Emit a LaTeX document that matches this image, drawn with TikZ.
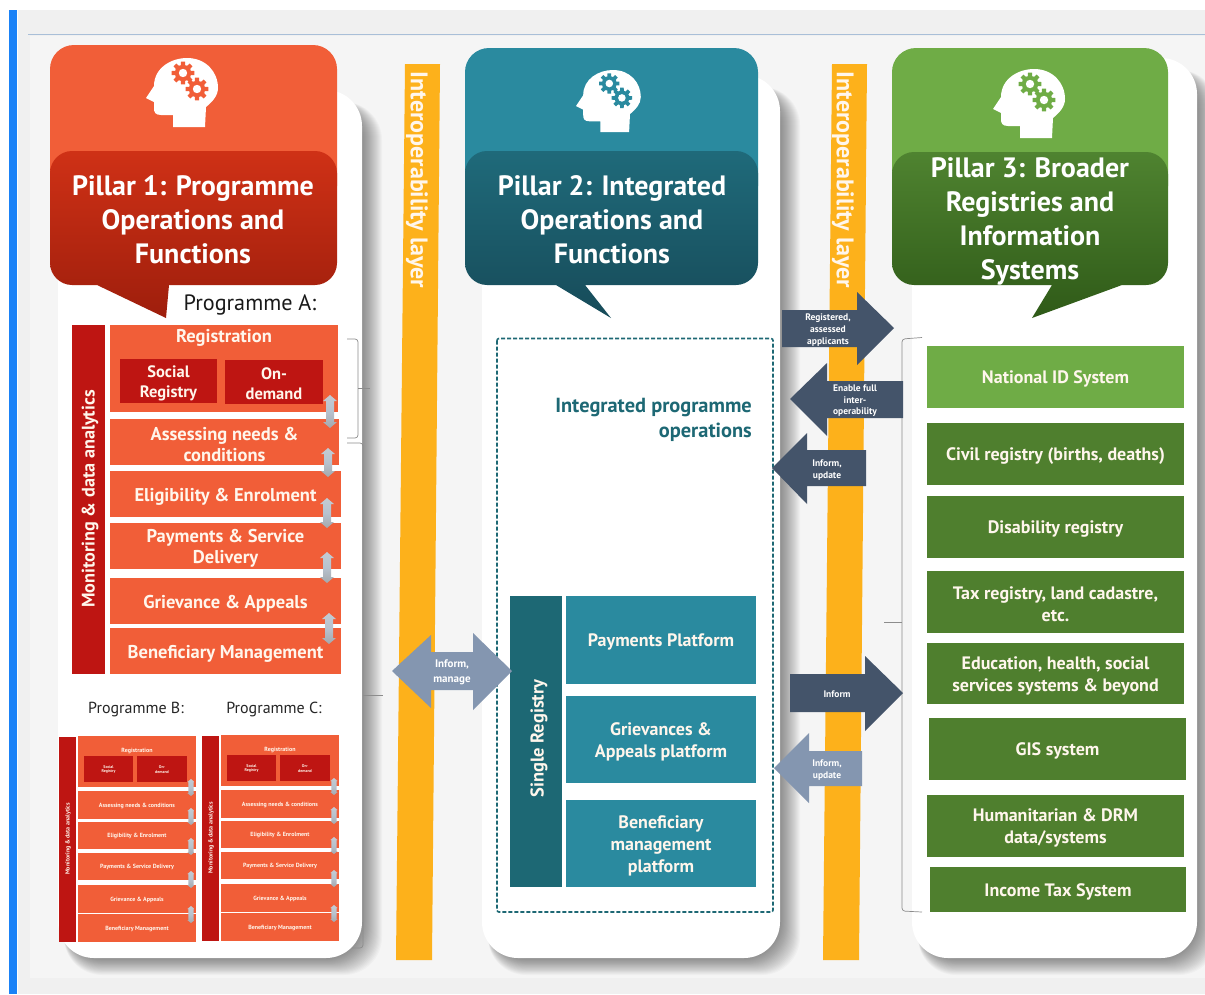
\documentclass[tikz,border=0pt]{standalone}
\usepackage{fontspec}
\setmainfont{PT Sans}
\definecolor{oA}{HTML}{F15E38}
\definecolor{rD}{HTML}{BE1512}
\definecolor{tA}{HTML}{2A8A9F}
\definecolor{tD}{HTML}{1D6874}
\definecolor{gA}{HTML}{6FAC46}
\definecolor{gD}{HTML}{4F7F2E}
\definecolor{barY}{HTML}{FDB11B}
\definecolor{navy}{HTML}{44546A}
\definecolor{slate}{HTML}{8496B0}
\definecolor{txtw}{HTML}{FFF6EC}
\definecolor{cat}{HTML}{CF3116}
\definecolor{cab}{HTML}{9E1E0C}
\definecolor{cbt}{HTML}{1F6A7A}
\definecolor{cbb}{HTML}{174B59}
\definecolor{cct}{HTML}{4F8330}
\definecolor{ccb}{HTML}{2F5A18}
\definecolor{rulec}{HTML}{A9BFD8}
\definecolor{blueb}{HTML}{1A82F7}
\definecolor{arrt}{HTML}{C3CBD3}
\definecolor{arrm}{HTML}{B7C2CE}
\definecolor{arrb}{HTML}{A4A8AC}
\tikzset{
  x=1pt,y=-1pt,
  plain/.style={inner sep=0pt,outer sep=0pt,align=center,text=txtw,font=\bfseries},
  orangebox/.style={plain,fill=oA},
  redbox/.style={plain,fill=rD},
  tealbox/.style={plain,fill=tA},
  tealdark/.style={plain,fill=tD},
  greenlight/.style={plain,fill=gA},
  greendark/.style={plain,fill=gD},
  fs/.style={font=\bfseries\fontsize{#1}{24}\selectfont},
  tiny text/.style={font=\bfseries\fontsize{6}{7}\selectfont},
  bracketline/.style={draw=black!45,line width=0.7pt,rounded corners=3pt},
  blockarrow/.style={inner sep=0pt,align=center,text=white},
}
% \bx{style}{name}{x1}{y1}{x2}{y2}{text}
\newcommand{\bx}[7]{%
  \pgfmathsetmacro{\bxw}{#5-#3}\pgfmathsetmacro{\bxh}{#6-#4}%
  \pgfmathsetmacro{\bxc}{(#3+#5)/2}\pgfmathsetmacro{\bxm}{(#4+#6)/2}%
  \node[#1,minimum width=\bxw pt,minimum height=\bxh pt] (#2) at (\bxc,\bxm) {\rule{0pt}{0.98em}#7};}
% small double arrow
\newcommand{\dblH}{7}\newcommand{\dblS}{4}\newcommand{\dblL}{6}
\newcommand{\dbl}[3]{%
  \path[top color=arrt,bottom color=arrb,middle color=arrm]
   (#1,#2) -- ({#1+\dblH},{#2+\dblL}) -- ({#1+\dblS},{#2+\dblL}) -- ({#1+\dblS},{#3-\dblL}) -- ({#1+\dblH},{#3-\dblL}) -- (#1,#3)
   -- ({#1-\dblH},{#3-\dblL}) -- ({#1-\dblS},{#3-\dblL}) -- ({#1-\dblS},{#2+\dblL}) -- ({#1-\dblH},{#2+\dblL}) -- cycle;}
% shadowed panel
\newcommand{\panel}[4]{%
  \foreach \s in {0,1,...,20}{
    \fill[black,opacity=0.024,rounded corners=38pt] ({#1+6},{#2+12}) rectangle ({#3+\s},{#4+\s*0.85});}
  \fill[white,rounded corners=36pt] (#1,#2) rectangle (#3,#4);}
% gear
\newcommand{\gear}[3]{%
  \foreach \ga in {0,45,...,315}{
    \fill[#3] ({#1+7.5*cos(\ga-17)},{#2+7.5*sin(\ga-17)}) -- ({#1+11.5*cos(\ga-10)},{#2+11.5*sin(\ga-10)})
      -- ({#1+11.5*cos(\ga+10)},{#2+11.5*sin(\ga+10)}) -- ({#1+7.5*cos(\ga+17)},{#2+7.5*sin(\ga+17)}) -- cycle;}
  \fill[#3] (#1,#2) circle (8.2);
  \fill[white] (#1,#2) circle (4.2);}
% head: x,y,scale,colour
\newcommand{\headicon}[4]{%
  \begin{scope}[shift={(#1,#2)},scale=#3]
  \fill[white] (27,69) -- (27,57) -- (15,57) .. controls (9,57) and (8,54) .. (8,50) -- (8,44) -- (0,40) -- (8,28)
    .. controls (8,10) and (25,0) .. (41,0) .. controls (60,0) and (72,14) .. (72,30)
    .. controls (72,38) and (66,44) .. (60,49) -- (59,69) -- cycle;
  \gear{37}{15}{#4}
  \gear{51}{31}{#4}
  \end{scope}}
% callout: x1,y1,x2,y2,pb,tip,pa,top,bottom
\newcommand{\callout}[9]{%
  \path[top color=#8,bottom color=#9]
    (#1,{#2+22}) .. controls (#1,{#2+10}) and ({#1+10},#2) .. ({#1+22},#2)
    -- ({#3-22},#2) .. controls ({#3-10},#2) and (#3,{#2+10}) .. (#3,{#2+22})
    -- (#3,{#4-22}) .. controls (#3,{#4-10}) and ({#3-10},#4) .. ({#3-22},#4)
    -- (#5,#4) -- #6 -- (#7,#4)
    -- ({#1+22},#4) .. controls ({#1+10},#4) and (#1,{#4-10}) .. (#1,{#4-22}) -- cycle;}
% small programme block
\newcommand{\prog}[3]{%
  \begin{scope}[shift={(#1,#2)}]
  \renewcommand{\dblH}{3.6}\renewcommand{\dblS}{2.6}\renewcommand{\dblL}{3}
  \bx{redbox,tiny text}{#3side}{0}{1}{17}{206}{}
  \node[plain,tiny text,rotate=90] (#3mon) at (9,103) {Monitoring \& data analytics};
  \bx{orangebox,tiny text}{#3reg}{19}{0}{137}{51}{}
  \node[plain,tiny text] (#3regl) at (78,15) {Registration};
  \bx{redbox,font=\bfseries\fontsize{4}{4.8}\selectfont}{#3soc}{25}{20}{74}{46}{Social\\Registry}
  \bx{redbox,font=\bfseries\fontsize{4}{4.8}\selectfont}{#3ond}{78}{20}{128}{46}{On-\\demand}
  \bx{orangebox,tiny text}{#3ass}{19}{55}{137}{83}{Assessing needs \& conditions}
  \bx{orangebox,tiny text}{#3eli}{19}{86}{137}{113}{Eligibility \& Enrolment}
  \bx{orangebox,tiny text}{#3pay}{19}{117}{137}{144}{Payments \& Service Delivery}
  \bx{orangebox,tiny text}{#3gri}{19}{149}{137}{177}{Grievance \& Appeals}
  \bx{orangebox,tiny text}{#3ben}{19}{178}{137}{206}{Beneficiary Management}
  \dbl{132}{43}{60}
  \dbl{132}{72}{89}
  \dbl{132}{102}{119}
  \dbl{132}{135}{152}
  \dbl{132}{170}{187}
  \end{scope}}
\begin{document}
\begin{tikzpicture}
\useasboundingbox (0,0) rectangle (1205,994);
\fill[white] (0,0) rectangle (1205,994);
\fill[black!6] (18,10) rectangle (1205,994);
\fill[black!4] (30,36) rectangle (1205,978);
\draw[rulec,line width=0.9pt] (28,34.5) -- (1205,34.5);
\fill[blueb] (9,10) rectangle (17,994);

\panel{58}{90}{362}{958}
\panel{482}{75}{780}{958}
\panel{912}{58}{1197}{958}

% interoperability bars
\fill[barY] (405,64) -- (440,64) -- (432,960) -- (396,960) -- cycle;
\fill[barY] (832,64) -- (867,64) -- (859,960) -- (823,960) -- cycle;
\node[plain,rotate=-90,fs=24] (ilA) at (417,180) {Interoperability layer};
\node[plain,rotate=-90,fs=24] (ilB) at (843,180) {Interoperability layer};

% pillar headers
\fill[oA,rounded corners=24pt] (50,45) rectangle (337,210);
\fill[tA,rounded corners=24pt] (465,48) rectangle (758,210);
\fill[gA,rounded corners=24pt] (892,48) rectangle (1168,210);
\headicon{146}{58}{1}{oA}
\headicon{576}{70}{0.9}{tA}
\headicon{993}{69}{1}{gA}
\callout{50}{151}{337}{285}{169}{(166,318)}{97}{cat}{cab}
\callout{465}{151}{758}{285}{585}{(611,318)}{556}{cbt}{cbb}
\callout{892}{152}{1168}{285}{1122}{(1032,318)}{1052}{cct}{ccb}
\node[plain,text=white,font=\bfseries\fontsize{28}{34}\selectfont] (t1) at (193,219.5) {Pillar 1: Programme\\Operations and\\Functions};
\node[plain,text=white,font=\bfseries\fontsize{28}{34}\selectfont] (t2) at (612,219.5) {Pillar 2: Integrated\\Operations and\\Functions};
\node[plain,text=white,font=\bfseries\fontsize{28}{34}\selectfont] (t3) at (1030,221) {Pillar 3: Broader\\Registries and\\Information\\Systems};

% programme A
\node[inner sep=0pt,text=black!90,font=\fontsize{22.2}{24}\selectfont] (pa) at (250,305) {Programme A:};
\bx{redbox}{mside}{72}{325}{105}{674}{}
\node[plain,rotate=90,fs=18.2] (mon) at (90,499) {Monitoring \& data analytics};
\bx{orangebox}{reg}{110}{325}{338}{412}{}
\node[plain,fs=18.5] (regl) at (224,338) {Registration};
\bx{redbox,font=\bfseries\fontsize{16.5}{20}\selectfont}{soc}{120}{359}{217}{403}{Social\\Registry}
\bx{redbox,font=\bfseries\fontsize{16.5}{20}\selectfont}{ond}{225}{360}{323}{404}{On-\\demand}
\bx{orangebox,font=\bfseries\fontsize{18.5}{21}\selectfont}{ass}{110}{419}{339}{465}{Assessing needs \&\\conditions}
\bx{orangebox,font=\bfseries\fontsize{18.5}{21}\selectfont}{eli}{110}{471}{341}{517}{Eligibility \& Enrolment}
\bx{orangebox,font=\bfseries\fontsize{18.5}{21}\selectfont}{pay}{110}{523}{341}{569}{Payments \& Service\\Delivery}
\bx{orangebox,font=\bfseries\fontsize{18.5}{21}\selectfont}{gri}{110}{578}{341}{624}{Grievance \& Appeals}
\bx{orangebox,font=\bfseries\fontsize{18.5}{21}\selectfont}{ben}{110}{628}{341}{674}{Beneficiary Management}
\dbl{330}{395}{428}
\dbl{328}{448}{477}
\dbl{327}{498}{528}
\dbl{327}{552}{583}
\dbl{329}{613}{644}

% brackets pillar 1
\draw[bracketline] (347,339) -- (358,339) -- (358,438) -- (347,438);
\draw[bracketline,rounded corners=0pt] (358,388) -- (370,388);
\draw[bracketline] (347,443) -- (363,443) -- (363,948) -- (352,948);
\draw[bracketline,rounded corners=0pt] (363,695) -- (383,695);

% programmes B, C
\node[inner sep=0pt,text=black!85,font=\fontsize{16}{19}\selectfont] (pb) at (136,709.5) {Programme B:};
\node[inner sep=0pt,text=black!85,font=\fontsize{16}{19}\selectfont] (pc) at (274,709) {Programme C:};
\prog{59}{736}{B}
\prog{202}{735}{C}

% pillar 2
\draw[tD,line width=1.6pt,dash pattern=on 4pt off 2pt,rounded corners=2pt] (497,338.5) rectangle (773,912);
\node[inner sep=0pt,align=right,text=tD,anchor=east,font=\bfseries\fontsize{20.4}{25}\selectfont] (ipo) at (752,420) {Integrated programme\\operations};
\bx{tealdark}{sr}{510}{596}{562}{887}{}
\node[plain,rotate=90,fs=18.5] (srl) at (539,738.5) {Single Registry};
\bx{tealbox,font=\bfseries\fontsize{18}{22}\selectfont}{pp}{566}{596}{756}{684}{Payments Platform}
\bx{tealbox,font=\bfseries\fontsize{18}{22}\selectfont}{gp}{566}{696}{756}{783}{Grievances \&\\Appeals platform}
\bx{tealbox,font=\bfseries\fontsize{18}{22}\selectfont}{bp}{566}{800}{756}{887}{Beneficiary\\management\\platform}

% pillar 3 bracket
\draw[bracketline] (922,337.5) -- (902,339) -- (902,911) -- (922,912);
\draw[bracketline,rounded corners=0pt] (884,622) -- (902,622);

% pillar 3 boxes
\bx{greenlight,font=\bfseries\fontsize{18}{22}\selectfont}{nid}{927}{346}{1184}{408}{National ID System}
\bx{greendark,font=\bfseries\fontsize{18}{22}\selectfont}{civ}{927}{423}{1184}{485}{Civil registry (births, deaths)}
\bx{greendark,font=\bfseries\fontsize{18}{22}\selectfont}{dis}{927}{496}{1184}{558}{Disability registry}
\bx{greendark,font=\bfseries\fontsize{18}{22}\selectfont}{tax}{927}{571}{1184}{633}{Tax registry, land cadastre,\\etc.}
\bx{greendark,font=\bfseries\fontsize{18}{22}\selectfont}{edu}{927}{643}{1184}{704}{Education, health, social\\services systems \& beyond}
\bx{greendark,font=\bfseries\fontsize{18}{22}\selectfont}{gis}{929}{718}{1186}{780}{GIS system}
\bx{greendark,font=\bfseries\fontsize{18}{22}\selectfont}{hum}{927}{795}{1184}{857}{Humanitarian \& DRM\\data/systems}
\bx{greendark,font=\bfseries\fontsize{18}{22}\selectfont}{inc}{930}{867}{1186}{912}{Income Tax System}

% block arrows
\fill[navy] (782,310) -- (857,310) -- (857,292) -- (894,328) -- (857,365) -- (857,347) -- (782,347) -- cycle;
\node[blockarrow,font=\bfseries\fontsize{9.5}{12}\selectfont] (a1) at (828,330) {Registered,\\assessed\\applicants};
\fill[navy] (903,381) -- (827,381) -- (827,363) -- (790,399) -- (827,436) -- (827,418) -- (903,418) -- cycle;
\node[blockarrow,font=\bfseries\fontsize{9.5}{11.5}\selectfont] (a2) at (855,401) {Enable full\\inter-\\operability};
\fill[navy] (866,450) -- (807,450) -- (807,433) -- (772,468) -- (807,504) -- (807,486) -- (866,486) -- cycle;
\node[blockarrow,font=\bfseries\fontsize{9.5}{11.5}\selectfont] (a3) at (827,470) {Inform,\\update};
\fill[slate] (392,671) -- (431,635) -- (431,652) -- (473,652) -- (473,633) -- (512,671) -- (473,710) -- (473,690) -- (431,690) -- (431,708) -- cycle;
\node[blockarrow,font=\bfseries\fontsize{11}{15}\selectfont] (a4) at (452,672.5) {Inform,\\manage};
\fill[navy] (790,674) -- (865,674) -- (865,656) -- (903,693) -- (865,731) -- (865,712) -- (790,712) -- cycle;
\node[blockarrow,font=\bfseries\fontsize{9.5}{11.5}\selectfont] (a5) at (837,694) {Inform};
\fill[slate] (862,751) -- (809,751) -- (809,733) -- (774,768) -- (809,803) -- (809,786) -- (862,786) -- cycle;
\node[blockarrow,font=\bfseries\fontsize{9.5}{11.5}\selectfont] (a6) at (827,770) {Inform,\\update};
\end{tikzpicture}
\end{document}
